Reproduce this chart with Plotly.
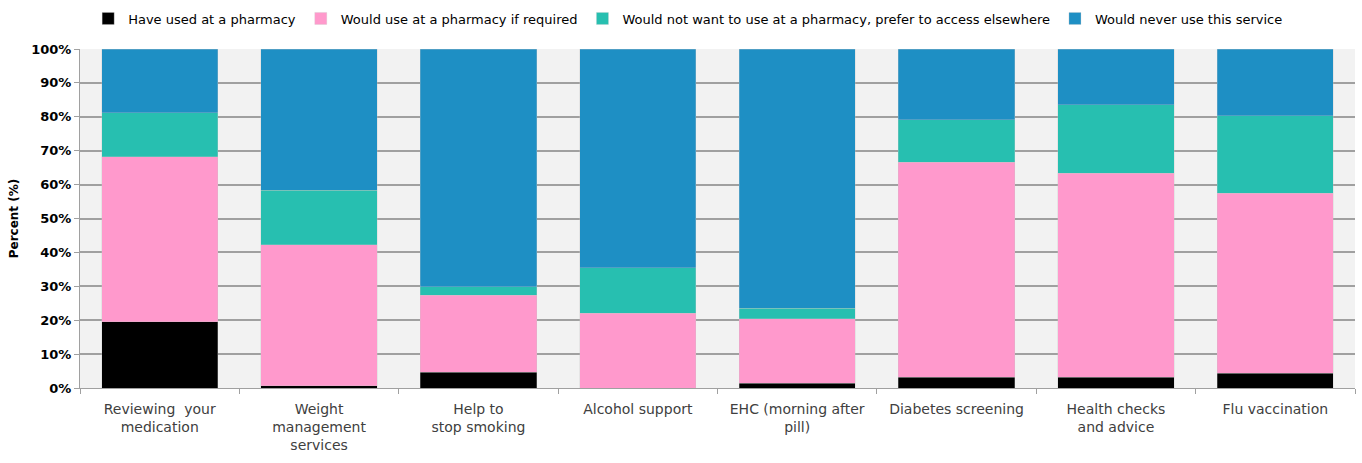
import plotly.graph_objects as go

categories = [
    "Reviewing  your<br>medication",
    "Weight<br>management<br>services",
    "Help to<br>stop smoking",
    "Alcohol support",
    "EHC (morning after<br>pill)",
    "Diabetes screening",
    "Health checks<br>and advice",
    "Flu vaccination",
]
used = [19.6, 0.6, 4.6, 0.0, 1.4, 3.2, 3.2, 4.3]
would_use = [48.6, 41.6, 22.7, 22.1, 19.0, 63.4, 60.1, 53.2]
prefer_elsewhere = [13.0, 16.2, 2.5, 13.3, 3.2, 12.5, 20.3, 22.8]
never = [18.8, 41.6, 70.2, 64.6, 76.4, 20.9, 16.4, 19.7]

series = [
    ("Have used at a pharmacy", used, "#000000"),
    ("Would use at a pharmacy if required", would_use, "#FF99CC"),
    ("Would not want to use at a pharmacy, prefer to access elsewhere", prefer_elsewhere, "#27BFB0"),
    ("Would never use this service", never, "#1E8FC4"),
]

font_family = "DejaVu Sans, sans-serif"

fig = go.Figure()
for name, vals, color in series:
    fig.add_trace(go.Bar(
        x=categories, y=vals, name=name,
        marker=dict(color=color, line=dict(width=0.5, color="rgba(200,200,200,0.6)")),
    ))

fig.update_layout(
    barmode="stack",
    bargap=0.27,
    width=1362, height=463,
    margin=dict(l=80, r=7, t=49, b=75, autoexpand=False),
    paper_bgcolor="white",
    plot_bgcolor="#F2F2F2",
    font=dict(family=font_family, size=13, color="#404040"),
    legend=dict(
        orientation="h", x=0.477, xanchor="center", y=1.09, yanchor="middle",
        font=dict(size=13, color="#000000"), traceorder="normal",
        itemwidth=30, tracegroupgap=0,
    ),
    showlegend=True,
)
fig.update_yaxes(
    range=[0, 100], dtick=10, ticksuffix="%",
    showgrid=True, gridcolor="#A0A0A0", gridwidth=1.5,
    showline=True, linecolor="#A0A0A0", linewidth=1,
    ticks="outside", ticklen=5, tickcolor="#A0A0A0",
    tickfont=dict(size=13, color="#000000", family=font_family, weight="bold"),
    title=dict(text="<b>Percent (%)</b>", font=dict(size=12, color="#000000"), standoff=10),
    zeroline=False,
)
fig.update_xaxes(
    showline=True, linecolor="#A0A0A0", linewidth=1,
    ticks="outside", ticklen=5, tickcolor="#A0A0A0", tickson="boundaries",
    tickfont=dict(size=14, color="#404040"),
    ticklabelstandoff=8,
    showgrid=False,
)

fig.write_html("out.html")
